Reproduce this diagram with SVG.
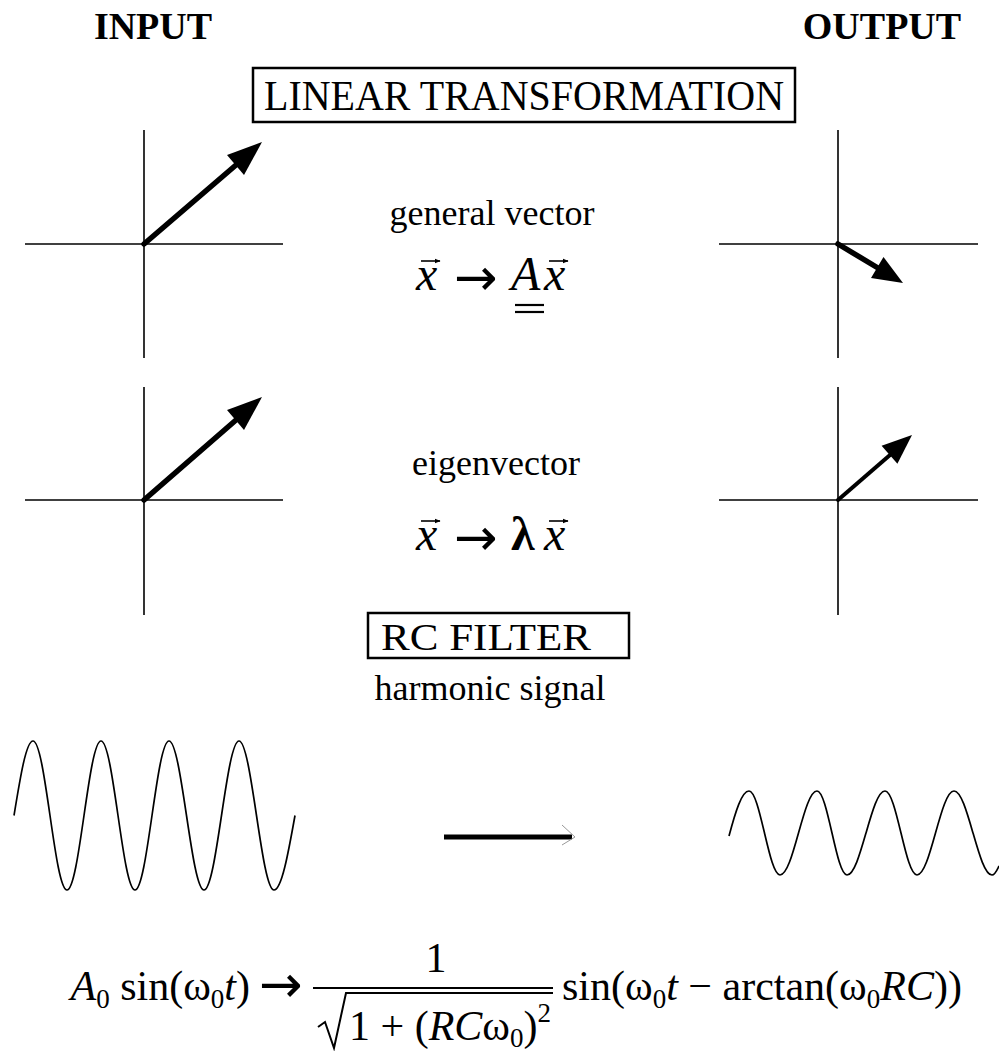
<svg xmlns="http://www.w3.org/2000/svg" width="999" height="1051" viewBox="0 0 999 1051">
<style>
text{font-family:"Liberation Serif","Times New Roman",serif;fill:#000}
.hdr{font-size:38px;font-weight:bold}
.lbl{font-size:36px}
.box{fill:none;stroke:#000;stroke-width:2.5}
.ax{stroke:#000;stroke-width:1.6;fill:none}
.vec{stroke:#000;stroke-linecap:round;fill:none}
.head{fill:#000}
.wave{fill:none;stroke:#000;stroke-width:1.7;stroke-linejoin:round}
.fm{font-size:48px}
.arr{font-family:"DejaVu Sans",sans-serif;font-size:52px}
.it{font-style:italic}
.f42{font-size:42px}
.thin{stroke:#000;stroke-width:1.6;fill:none}
</style>
<defs>
<marker id="vh" viewBox="0 0 10 10" refX="9" refY="5" markerWidth="6" markerHeight="6" markerUnits="userSpaceOnUse" orient="auto">
<path d="M0,1 L10,5 L0,9 Z" fill="#000"/>
</marker>
</defs>

<g id="headers">
<text class="hdr" x="153" y="39" text-anchor="middle">INPUT</text>
<text class="hdr" x="882" y="39" text-anchor="middle">OUTPUT</text>
</g>

<g id="box-linear">
<rect class="box" x="253" y="68" width="542" height="54"/>
<text x="264" y="110" font-size="42" textLength="520" lengthAdjust="spacingAndGlyphs">LINEAR TRANSFORMATION</text>
</g>

<g id="input-general">
<line class="ax" x1="25" y1="244" x2="283" y2="244"/>
<line class="ax" x1="144" y1="130" x2="144" y2="358"/>
<line class="vec" x1="144" y1="244" x2="236" y2="165" stroke-width="5.5"/>
<polygon class="head" points="262,142 244,175 227,155"/>
</g>

<g id="output-general">
<line class="ax" x1="719" y1="244" x2="978" y2="244"/>
<line class="ax" x1="838" y1="130" x2="838" y2="358"/>
<line class="vec" x1="838" y1="244" x2="878" y2="268" stroke-width="5.5"/>
<polygon class="head" points="903,283 871,278 883.5,257"/>
</g>

<g id="label-general">
<text class="lbl" x="492" y="225" text-anchor="middle">general vector</text>
<text class="fm it" x="416" y="290">x</text>
<line class="thin" x1="421" y1="261" x2="440" y2="261" marker-end="url(#vh)"/>
<text class="arr" x="454" y="295">→</text>
<text class="fm it" x="511" y="290">A</text>
<line x1="515" y1="305" x2="544" y2="305" stroke="#000" stroke-width="2.2"/>
<line x1="515" y1="312" x2="544" y2="312" stroke="#000" stroke-width="2.2"/>
<text class="fm it" x="544" y="290">x</text>
<line class="thin" x1="549" y1="261" x2="568" y2="261" marker-end="url(#vh)"/>
</g>

<g id="input-eigen">
<line class="ax" x1="25" y1="500" x2="283" y2="500"/>
<line class="ax" x1="144" y1="387" x2="144" y2="615"/>
<line class="vec" x1="144" y1="500" x2="236" y2="420" stroke-width="5.5"/>
<polygon class="head" points="262,397 244,430 227,410"/>
</g>

<g id="output-eigen">
<line class="ax" x1="719" y1="500" x2="978" y2="500"/>
<line class="ax" x1="838" y1="387" x2="838" y2="615"/>
<line class="vec" x1="838" y1="500" x2="890" y2="455" stroke-width="4"/>
<polygon class="head" points="912,435 897.4,463.8 881.6,445.8"/>
</g>

<g id="label-eigen">
<text class="lbl" x="496" y="475" text-anchor="middle">eigenvector</text>
<text class="fm it" x="416" y="550">x</text>
<line class="thin" x1="421" y1="521" x2="440" y2="521" marker-end="url(#vh)"/>
<text class="arr" x="454" y="555">→</text>
<text class="fm" x="511" y="550" font-weight="bold">λ</text>
<text class="fm it" x="544" y="550">x</text>
<line class="thin" x1="549" y1="521" x2="568" y2="521" marker-end="url(#vh)"/>
</g>

<g id="box-rc">
<rect class="box" x="368" y="613" width="261" height="45"/>
<text x="381" y="650" font-size="38" textLength="210" lengthAdjust="spacingAndGlyphs">RC  FILTER</text>
</g>

<g id="label-harmonic">
<text class="lbl" x="490" y="700" text-anchor="middle">harmonic signal</text>
</g>

<g id="input-wave">
<path class="wave" d="M14,815.5 C20.2,777.4 26.1,741 33,741 C39.2,741 44.5,777.4 50,815.5 C55.5,853.6 60.8,890 67,890 C73.2,890 78.5,853.6 84,815.5 C89.5,777.4 94.8,741 101,741 C107.2,741 112.5,777.4 118,815.5 C123.5,853.6 128.8,890 135,890 C141.2,890 146.5,853.6 152,815.5 C157.5,777.4 162.8,741 169,741 C175.3,741 180.8,777.4 186.5,815.5 C192.2,853.6 197.7,890 204,890 C210.3,890 215.8,853.6 221.5,815.5 C227.2,777.4 232.7,741 239,741 C245.3,741 250.8,777.4 256.5,815.5 C262.2,853.6 267.7,890 274,890 C281.6,890 288.2,853.6 295,815.5"/>
</g>

<g id="output-wave">
<path class="wave" d="M729,836 C735.5,811.5 741.8,791 749,791 C754.6,791 759.4,811.5 764.5,833 C769.6,854.5 774.4,875 780,875 C786.7,875 792.5,854.5 798.5,833 C804.5,811.5 810.3,791 817,791 C822.4,791 827.1,811.5 832,833 C836.9,854.5 841.6,875 847,875 C853.9,875 859.8,854.5 866,833 C872.2,811.5 878.1,791 885,791 C890.8,791 895.8,811.5 901,833 C906.2,854.5 911.2,875 917,875 C923.7,875 929.5,854.5 935.5,833 C941.5,811.5 947.3,791 954,791 C960.9,791 966.8,811.5 973,833 C979.2,854.5 985.1,875 992,875 C995,875 997,870 999,866"/>
</g>

<g id="connectors">
<line x1="444" y1="837" x2="572" y2="837" stroke="#000" stroke-width="5"/>
<polyline points="562,825 575,837 562,845" fill="none" stroke="#999" stroke-width="1"/>
</g>

<g id="formula">
<text class="f42" x="250" y="1000" text-anchor="end"><tspan class="it">A</tspan><tspan dy="8" font-size="27">0</tspan><tspan dy="-8"> sin(ω</tspan><tspan dy="8" font-size="27">0</tspan><tspan dy="-8" class="it">t</tspan>)</text>
<text class="arr" x="259" y="1002" font-size="44">→</text>
<text class="f42" x="436" y="972" text-anchor="middle">1</text>
<line x1="313" y1="988" x2="553" y2="988" stroke="#000" stroke-width="2"/>
<path d="M318,1027 L325,1022 L334,1048 L346,993 L553,993" fill="none" stroke="#000" stroke-width="2"/>
<text class="f42" x="349" y="1040">1 + (<tspan class="it">RC</tspan>ω<tspan dy="7" font-size="27">0</tspan><tspan dy="-7">)</tspan><tspan dy="-18" font-size="27">2</tspan></text>
<text class="f42" x="562" y="1000">sin(ω<tspan dy="8" font-size="27">0</tspan><tspan dy="-8" class="it">t</tspan> − arctan(ω<tspan dy="8" font-size="27">0</tspan><tspan dy="-8" class="it">RC</tspan>))</text>
</g>
</svg>
